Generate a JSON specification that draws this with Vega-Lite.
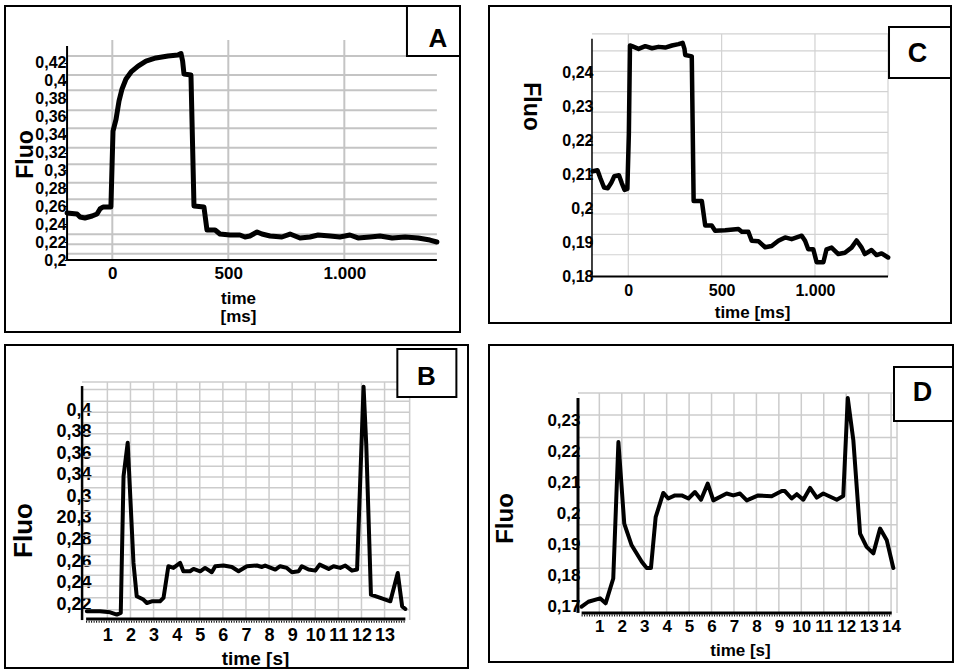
{
"$schema":"https://vega.github.io/schema/vega-lite/v6.json",
"padding":{"left":4,"top":4,"right":0,"bottom":0},
"background":"white",
"config":{
 "view":{"stroke":"black","strokeWidth":2},
 "font":"Liberation Sans",
 "axis":{"labelColor":"black","titleColor":"black","labelFont":"Liberation Sans","titleFont":"Liberation Sans","labelFontWeight":"bold","titleFontWeight":"bold","labelOverlap":false,"labelFlush":false,"labelBound":false,"tickColor":"black","domain":false,"grid":false,"titleAlign":"center","titleBaseline":"middle"}
},
"datasets":{
 "lineA":[{"t":-195,"f":0.2525},{"t":-152,"f":0.2514},{"t":-139,"f":0.248},{"t":-118,"f":0.2469},{"t":-87,"f":0.2491},{"t":-66,"f":0.2514},{"t":-53,"f":0.257},{"t":-40,"f":0.2592},{"t":-6,"f":0.2592},{"t":3,"f":0.344},{"t":16,"f":0.357},{"t":29,"f":0.3776},{"t":42,"f":0.391},{"t":59,"f":0.4021},{"t":81,"f":0.41},{"t":111,"f":0.4166},{"t":145,"f":0.4222},{"t":188,"f":0.4256},{"t":240,"f":0.4278},{"t":283,"f":0.4289},{"t":296,"f":0.4306},{"t":303,"f":0.4222},{"t":309,"f":0.4077},{"t":339,"f":0.4066},{"t":352,"f":0.2603},{"t":395,"f":0.2592},{"t":408,"f":0.2335},{"t":443,"f":0.2335},{"t":464,"f":0.229},{"t":507,"f":0.2279},{"t":550,"f":0.2279},{"t":572,"f":0.2257},{"t":593,"f":0.2268},{"t":624,"f":0.2313},{"t":645,"f":0.229},{"t":680,"f":0.2268},{"t":731,"f":0.2257},{"t":766,"f":0.229},{"t":809,"f":0.2246},{"t":852,"f":0.2257},{"t":887,"f":0.2279},{"t":938,"f":0.2268},{"t":981,"f":0.2257},{"t":1024,"f":0.2279},{"t":1059,"f":0.2246},{"t":1111,"f":0.2257},{"t":1154,"f":0.2268},{"t":1206,"f":0.2246},{"t":1262,"f":0.2257},{"t":1318,"f":0.2246},{"t":1369,"f":0.2223},{"t":1399,"f":0.2201}],
 "lineC":[{"t":-191,"f":0.211},{"t":-165,"f":0.2113},{"t":-150,"f":0.209},{"t":-130,"f":0.2062},{"t":-110,"f":0.206},{"t":-92,"f":0.2075},{"t":-75,"f":0.2095},{"t":-50,"f":0.2098},{"t":-35,"f":0.2075},{"t":-20,"f":0.2055},{"t":-5,"f":0.2058},{"t":3,"f":0.222},{"t":9,"f":0.248},{"t":20,"f":0.2478},{"t":55,"f":0.247},{"t":91,"f":0.2478},{"t":127,"f":0.2472},{"t":162,"f":0.2476},{"t":198,"f":0.2474},{"t":234,"f":0.248},{"t":269,"f":0.2484},{"t":291,"f":0.2488},{"t":301,"f":0.247},{"t":305,"f":0.2452},{"t":340,"f":0.2448},{"t":350,"f":0.2022},{"t":394,"f":0.2022},{"t":412,"f":0.195},{"t":447,"f":0.195},{"t":465,"f":0.1935},{"t":519,"f":0.1936},{"t":590,"f":0.194},{"t":608,"f":0.1932},{"t":643,"f":0.1932},{"t":661,"f":0.1905},{"t":697,"f":0.1904},{"t":733,"f":0.1886},{"t":768,"f":0.189},{"t":804,"f":0.1905},{"t":840,"f":0.1915},{"t":875,"f":0.191},{"t":929,"f":0.192},{"t":947,"f":0.1905},{"t":964,"f":0.188},{"t":991,"f":0.188},{"t":1009,"f":0.1842},{"t":1045,"f":0.1842},{"t":1062,"f":0.188},{"t":1089,"f":0.1885},{"t":1125,"f":0.1866},{"t":1160,"f":0.187},{"t":1196,"f":0.1885},{"t":1223,"f":0.1906},{"t":1250,"f":0.1885},{"t":1267,"f":0.1866},{"t":1303,"f":0.1878},{"t":1330,"f":0.1863},{"t":1357,"f":0.1868},{"t":1392,"f":0.1856}],
 "lineB":[{"t":0.11,"f":0.2135},{"t":0.68,"f":0.2135},{"t":1.12,"f":0.2126},{"t":1.41,"f":0.2105},{"t":1.58,"f":0.212},{"t":1.7,"f":0.3387},{"t":1.88,"f":0.3696},{"t":2.13,"f":0.2583},{"t":2.27,"f":0.2274},{"t":2.56,"f":0.2244},{"t":2.71,"f":0.2212},{"t":2.92,"f":0.2228},{"t":3.28,"f":0.2228},{"t":3.43,"f":0.2259},{"t":3.64,"f":0.2553},{"t":3.86,"f":0.2537},{"t":4.15,"f":0.2583},{"t":4.29,"f":0.2506},{"t":4.58,"f":0.2506},{"t":4.73,"f":0.2528},{"t":5.02,"f":0.2506},{"t":5.23,"f":0.2537},{"t":5.52,"f":0.2497},{"t":5.67,"f":0.2553},{"t":6.03,"f":0.2559},{"t":6.39,"f":0.2546},{"t":6.68,"f":0.2506},{"t":7.04,"f":0.2553},{"t":7.47,"f":0.2559},{"t":7.69,"f":0.2546},{"t":7.83,"f":0.2559},{"t":8.27,"f":0.2522},{"t":8.48,"f":0.2553},{"t":8.77,"f":0.2537},{"t":8.99,"f":0.2497},{"t":9.28,"f":0.2506},{"t":9.42,"f":0.2553},{"t":9.71,"f":0.2522},{"t":10.0,"f":0.2512},{"t":10.19,"f":0.2568},{"t":10.58,"f":0.2528},{"t":10.79,"f":0.2553},{"t":11.08,"f":0.2537},{"t":11.3,"f":0.2559},{"t":11.59,"f":0.2512},{"t":11.81,"f":0.2522},{"t":12.09,"f":0.4216},{"t":12.21,"f":0.3666},{"t":12.41,"f":0.229},{"t":12.82,"f":0.2259},{"t":13.25,"f":0.2228},{"t":13.57,"f":0.249},{"t":13.76,"f":0.2181},{"t":13.9,"f":0.2157}],
 "lineD":[{"t":0.21,"f":0.17},{"t":0.51,"f":0.1716},{"t":1.03,"f":0.1727},{"t":1.28,"f":0.1711},{"t":1.62,"f":0.1791},{"t":1.85,"f":0.2231},{"t":2.11,"f":0.1968},{"t":2.44,"f":0.1898},{"t":2.89,"f":0.1845},{"t":3.11,"f":0.1825},{"t":3.3,"f":0.1825},{"t":3.51,"f":0.1989},{"t":3.85,"f":0.2067},{"t":4.07,"f":0.2049},{"t":4.37,"f":0.2059},{"t":4.67,"f":0.2059},{"t":4.97,"f":0.2049},{"t":5.26,"f":0.207},{"t":5.53,"f":0.2045},{"t":5.83,"f":0.2097},{"t":6.08,"f":0.2043},{"t":6.67,"f":0.2065},{"t":6.97,"f":0.2059},{"t":7.27,"f":0.2065},{"t":7.57,"f":0.2043},{"t":8.08,"f":0.2059},{"t":8.68,"f":0.2056},{"t":9.13,"f":0.2073},{"t":9.27,"f":0.2073},{"t":9.57,"f":0.2049},{"t":9.8,"f":0.2063},{"t":10.09,"f":0.2045},{"t":10.39,"f":0.2083},{"t":10.69,"f":0.2052},{"t":10.98,"f":0.2065},{"t":11.58,"f":0.2045},{"t":11.87,"f":0.2057},{"t":12.07,"f":0.2373},{"t":12.32,"f":0.2236},{"t":12.62,"f":0.1936},{"t":12.91,"f":0.1893},{"t":13.21,"f":0.1872},{"t":13.51,"f":0.1952},{"t":13.81,"f":0.1914},{"t":14.1,"f":0.1825}],
 "gridAH":[{"v":0.207},{"v":0.2175},{"v":0.2287},{"v":0.2499},{"v":0.2678},{"v":0.2863},{"v":0.3069},{"v":0.3254},{"v":0.3471},{"v":0.3672},{"v":0.3895},{"v":0.4066},{"v":0.4278}],
 "gridAV":[{"v":0},{"v":500},{"v":1000}],
 "gridCH":[{"v":0.1864},{"v":0.1924},{"v":0.1984},{"v":0.2044},{"v":0.2104},{"v":0.2164},{"v":0.2224},{"v":0.2284},{"v":0.2344},{"v":0.2404},{"v":0.2464},{"v":0.2514}],
 "gridCV":[{"v":0},{"v":500},{"v":1000},{"v":1391.2}],
 "gridBH":[{"v":0.215},{"v":0.226},{"v":0.237},{"v":0.247},{"v":0.256},{"v":0.266},{"v":0.275},{"v":0.284},{"v":0.295},{"v":0.306},{"v":0.317},{"v":0.328},{"v":0.338},{"v":0.348},{"v":0.357},{"v":0.368},{"v":0.378},{"v":0.388},{"v":0.398},{"v":0.408},{"v":0.419},{"v":0.426}],
 "gridBV":[{"v":1},{"v":2},{"v":3},{"v":4},{"v":5},{"v":6},{"v":7},{"v":8},{"v":9},{"v":10},{"v":11},{"v":12},{"v":13},{"v":14.086}],
 "gridDH":[{"v":0.1759},{"v":0.1824},{"v":0.1894},{"v":0.1964},{"v":0.2035},{"v":0.2109},{"v":0.2179},{"v":0.2246},{"v":0.2318},{"v":0.2389}],
 "gridDV":[{"v":1},{"v":2},{"v":3},{"v":4},{"v":5},{"v":6},{"v":7},{"v":8},{"v":9},{"v":10},{"v":11},{"v":12},{"v":13},{"v":14},{"v":14.265}],
 "one":[{}]
},
"columns":2,
"spacing":{"row":13,"column":21},
"align":"each",
"bounds":"flush",
"concat":[
  {"width":455,"height":326,"resolve":{"axis":{"x":"independent","y":"independent"}},"layer":[
   {"data":{"name":"gridAH"},"mark":{"type":"rule","color":"#c4c4c4","strokeWidth":2},"encoding":{"y":{"field":"v","type":"quantitative","scale":{"domain":[0.1196,0.48364],"nice":false,"zero":false},"axis":null},"x":{"datum":-195,"type":"quantitative","scale":{"domain":[-462.5,1498.6],"nice":false,"zero":false},"axis":null},"x2":{"datum":1399}}},
   {"data":{"name":"gridAV"},"mark":{"type":"rule","color":"#c4c4c4","strokeWidth":2},"encoding":{"x":{"field":"v","type":"quantitative","scale":{"domain":[-462.5,1498.6],"nice":false,"zero":false},"axis":null},"y":{"datum":0.2,"type":"quantitative","scale":{"domain":[0.1196,0.48364],"nice":false,"zero":false},"axis":null},"y2":{"datum":0.4457}}},
   {"data":{"name":"one"},"mark":{"type":"rule","color":"black","strokeWidth":2},"encoding":{"x":{"datum":-195,"type":"quantitative","scale":{"domain":[-462.5,1498.6],"nice":false,"zero":false},"axis":null},"x2":{"datum":1399},"y":{"datum":0.2,"type":"quantitative","scale":{"domain":[0.1196,0.48364],"nice":false,"zero":false},"axis":null}}},
   {"data":{"name":"one"},"mark":{"type":"rule","color":"black","strokeWidth":2},"encoding":{"x":{"datum":-195,"type":"quantitative","scale":{"domain":[-462.5,1498.6],"nice":false,"zero":false},"axis":null},"y":{"datum":0.2,"type":"quantitative","scale":{"domain":[0.1196,0.48364],"nice":false,"zero":false},"axis":null},"y2":{"datum":0.439}}},
   {"data":{"name":"lineA"},"mark":{"type":"line","color":"black","strokeWidth":5,"strokeJoin":"round","strokeCap":"round"},"encoding":{
     "x":{"field":"t","type":"quantitative","scale":{"domain":[-462.5,1498.6],"nice":false,"zero":false},"axis":{"values":[0,500,1000],"offset":-72,"ticks":false,"tickSize":0,"labelPadding":5,"labelFontSize":17,"labelExpr":"replace(format(datum.value, ','), ',', '.')","title":["time","[ms]"],"titleFontSize":17,"titleX":233,"titleY":30,"titleBaseline":"top","titleLineHeight":18}},
     "y":{"field":"f","type":"quantitative","scale":{"domain":[0.1196,0.48364],"nice":false,"zero":false},"axis":{"values":[0.2,0.22,0.24,0.26,0.28,0.3,0.32,0.34,0.36,0.38,0.4,0.42],"offset":-62,"ticks":true,"tickSize":3,"labelPadding":-2,"labelFontSize":16,"labelExpr":"replace(format(datum.value, '.2~f'), '.', ',')","title":"Fluo","titleFontSize":23,"titleAngle":-90,"titleX":-42,"titleY":148}}}},
   {"data":{"name":"one"},"mark":{"type":"rect","fill":"white","stroke":"black","strokeWidth":2},"encoding":{"x":{"datum":1270,"type":"quantitative","scale":{"domain":[-462.5,1498.6],"nice":false,"zero":false},"axis":null},"x2":{"datum":1498.6},"y":{"datum":0.4278,"type":"quantitative","scale":{"domain":[0.1196,0.48364],"nice":false,"zero":false},"axis":null},"y2":{"datum":0.48364}}},
   {"data":{"values":[{"label":"A"}]},"mark":{"type":"text","fontSize":26,"fontWeight":"bold","font":"Liberation Sans","align":"center","baseline":"middle","color":"black"},"encoding":{"text":{"field":"label"},"x":{"datum":1403.8,"type":"quantitative","scale":{"domain":[-462.5,1498.6],"nice":false,"zero":false},"axis":null},"y":{"datum":0.4473,"type":"quantitative","scale":{"domain":[0.1196,0.48364],"nice":false,"zero":false},"axis":null}}}
  ]},
  {"width":462,"height":317,"resolve":{"axis":{"x":"independent","y":"independent"}},"layer":[
   {"data":{"name":"gridCH"},"mark":{"type":"rule","color":"#d2d2d2","strokeWidth":1.2},"encoding":{"y":{"field":"v","type":"quantitative","scale":{"domain":[0.16631,0.25963],"nice":false,"zero":false},"axis":null},"x":{"datum":-194.5,"type":"quantitative","scale":{"domain":[-746.2,1728.7],"nice":false,"zero":false},"axis":null},"x2":{"datum":1391.2}}},
   {"data":{"name":"gridCV"},"mark":{"type":"rule","color":"#d2d2d2","strokeWidth":1.2},"encoding":{"x":{"field":"v","type":"quantitative","scale":{"domain":[-746.2,1728.7],"nice":false,"zero":false},"axis":null},"y":{"datum":0.18,"type":"quantitative","scale":{"domain":[0.16631,0.25963],"nice":false,"zero":false},"axis":null},"y2":{"datum":0.2514}}},
   {"data":{"name":"one"},"mark":{"type":"rule","color":"black","strokeWidth":2},"encoding":{"x":{"datum":-194.5,"type":"quantitative","scale":{"domain":[-746.2,1728.7],"nice":false,"zero":false},"axis":null},"x2":{"datum":1391.2},"y":{"datum":0.18,"type":"quantitative","scale":{"domain":[0.16631,0.25963],"nice":false,"zero":false},"axis":null}}},
   {"data":{"name":"one"},"mark":{"type":"rule","color":"black","strokeWidth":1.5},"encoding":{"x":{"datum":-194.5,"type":"quantitative","scale":{"domain":[-746.2,1728.7],"nice":false,"zero":false},"axis":null},"y":{"datum":0.18,"type":"quantitative","scale":{"domain":[0.16631,0.25963],"nice":false,"zero":false},"axis":null},"y2":{"datum":0.25}}},
   {"data":{"name":"lineC"},"mark":{"type":"line","color":"black","strokeWidth":4.5,"strokeJoin":"round","strokeCap":"round"},"encoding":{
     "x":{"field":"t","type":"quantitative","scale":{"domain":[-746.2,1728.7],"nice":false,"zero":false},"axis":{"values":[0,500,1000],"offset":-46,"ticks":false,"tickSize":0,"labelPadding":5,"labelFontSize":16,"labelExpr":"replace(format(datum.value, ','), ',', '.')","title":"time [ms]","titleFontSize":17,"titleX":263,"titleY":35}},
     "y":{"field":"f","type":"quantitative","scale":{"domain":[0.16631,0.25963],"nice":false,"zero":false},"axis":{"values":[0.18,0.19,0.2,0.21,0.22,0.23,0.24],"offset":-103,"ticks":true,"tickSize":3,"labelPadding":-4,"labelFontSize":16,"labelExpr":"replace(format(datum.value, '.2~f'), '.', ',')","title":"Fluo","titleFontSize":23,"titleAngle":90,"titleX":-62,"titleY":100}}}},
   {"data":{"name":"one"},"mark":{"type":"rect","fill":"white","stroke":"black","strokeWidth":2},"encoding":{"x":{"datum":1396.6,"type":"quantitative","scale":{"domain":[-746.2,1728.7],"nice":false,"zero":false},"axis":null},"x2":{"datum":1728.7},"y":{"datum":0.23843,"type":"quantitative","scale":{"domain":[0.16631,0.25963],"nice":false,"zero":false},"axis":null},"y2":{"datum":0.25345}}},
   {"data":{"values":[{"label":"C"}]},"mark":{"type":"text","fontSize":27,"fontWeight":"bold","font":"Liberation Sans","align":"center","baseline":"middle","color":"black"},"encoding":{"text":{"field":"label"},"x":{"datum":1549.2,"type":"quantitative","scale":{"domain":[-746.2,1728.7],"nice":false,"zero":false},"axis":null},"y":{"datum":0.2455,"type":"quantitative","scale":{"domain":[0.16631,0.25963],"nice":false,"zero":false},"axis":null}}}
  ]},
  {"width":463,"height":323,"resolve":{"axis":{"x":"independent","y":"independent"}},"layer":[
   {"data":{"name":"gridBH"},"mark":{"type":"rule","color":"#cccccc","strokeWidth":1.5},"encoding":{"y":{"field":"v","type":"quantitative","scale":{"domain":[0.16099,0.46022],"nice":false,"zero":false},"axis":null},"x":{"datum":-0.095,"type":"quantitative","scale":{"domain":[-3.4315,16.6118],"nice":false,"zero":false},"axis":null},"x2":{"datum":14.086}}},
   {"data":{"name":"gridBV"},"mark":{"type":"rule","color":"#cccccc","strokeWidth":1.5},"encoding":{"x":{"field":"v","type":"quantitative","scale":{"domain":[-3.4315,16.6118],"nice":false,"zero":false},"axis":null},"y":{"datum":0.20545,"type":"quantitative","scale":{"domain":[0.16099,0.46022],"nice":false,"zero":false},"axis":null},"y2":{"datum":0.42595}}},
   {"data":{"name":"one"},"mark":{"type":"rule","color":"black","strokeWidth":3},"encoding":{"x":{"datum":0.08,"type":"quantitative","scale":{"domain":[-3.4315,16.6118],"nice":false,"zero":false},"axis":null},"x2":{"datum":13.9},"y":{"datum":0.20638,"type":"quantitative","scale":{"domain":[0.16099,0.46022],"nice":false,"zero":false},"axis":null}}},
   {"data":{"name":"one"},"mark":{"type":"rule","color":"black","strokeWidth":2,"strokeDash":[1,1.5]},"encoding":{"x":{"datum":0.08,"type":"quantitative","scale":{"domain":[-3.4315,16.6118],"nice":false,"zero":false},"axis":null},"x2":{"datum":13.9},"y":{"datum":0.20379,"type":"quantitative","scale":{"domain":[0.16099,0.46022],"nice":false,"zero":false},"axis":null}}},
   {"data":{"name":"one"},"mark":{"type":"rule","color":"black","strokeWidth":2.5},"encoding":{"x":{"datum":-0.095,"type":"quantitative","scale":{"domain":[-3.4315,16.6118],"nice":false,"zero":false},"axis":null},"y":{"datum":0.2054,"type":"quantitative","scale":{"domain":[0.16099,0.46022],"nice":false,"zero":false},"axis":null},"y2":{"datum":0.4222}}},
   {"data":{"name":"lineB"},"mark":{"type":"line","color":"black","strokeWidth":4,"strokeJoin":"round","strokeCap":"round"},"encoding":{
     "x":{"field":"t","type":"quantitative","scale":{"domain":[-3.4315,16.6118],"nice":false,"zero":false},"axis":{"values":[1,2,3,4,5,6,7,8,9,10,11,12,13],"offset":-48,"ticks":false,"tickSize":0,"labelPadding":6,"labelFontSize":18,"title":"time [s]","titleFontSize":19,"titleX":250,"titleY":38}},
     "y":{"field":"f","type":"quantitative","scale":{"domain":[0.16099,0.46022],"nice":false,"zero":false},"axis":{"values":[0.22,0.24,0.26,0.28,0.3,0.32,0.34,0.36,0.38,0.4],"offset":-77,"ticks":false,"tickSize":0,"labelPadding":-9,"labelFontSize":18,"labelExpr":"datum.value == 0.32 ? '0,3' : datum.value == 0.3 ? '20,3' : replace(format(datum.value, '.2~f'), '.', ',')","title":"Fluo","titleFontSize":26,"titleAngle":-90,"titleX":-59,"titleY":185}}}},
   {"data":{"name":"one"},"mark":{"type":"rect","fill":"white","stroke":"black","strokeWidth":2},"encoding":{"x":{"datum":13.553,"type":"quantitative","scale":{"domain":[-3.4315,16.6118],"nice":false,"zero":false},"axis":null},"x2":{"datum":16.109},"y":{"datum":0.41205,"type":"quantitative","scale":{"domain":[0.16099,0.46022],"nice":false,"zero":false},"axis":null},"y2":{"datum":0.45652}}},
   {"data":{"values":[{"label":"B"}]},"mark":{"type":"text","fontSize":26,"fontWeight":"bold","font":"Liberation Sans","align":"center","baseline":"middle","color":"black"},"encoding":{"text":{"field":"label"},"x":{"datum":14.809,"type":"quantitative","scale":{"domain":[-3.4315,16.6118],"nice":false,"zero":false},"axis":null},"y":{"datum":0.43058,"type":"quantitative","scale":{"domain":[0.16099,0.46022],"nice":false,"zero":false},"axis":null}}}
  ]},
  {"width":464,"height":317,"resolve":{"axis":{"x":"independent","y":"independent"}},"layer":[
   {"data":{"name":"gridDH"},"mark":{"type":"rule","color":"#cccccc","strokeWidth":1.5},"encoding":{"y":{"field":"v","type":"quantitative","scale":{"domain":[0.15216,0.25442],"nice":false,"zero":false},"axis":null},"x":{"datum":0.049,"type":"quantitative","scale":{"domain":[-3.917,16.76],"nice":false,"zero":false},"axis":null},"x2":{"datum":14.265}}},
   {"data":{"name":"gridDV"},"mark":{"type":"rule","color":"#cccccc","strokeWidth":1.5},"encoding":{"x":{"field":"v","type":"quantitative","scale":{"domain":[-3.917,16.76],"nice":false,"zero":false},"axis":null},"y":{"datum":0.168,"type":"quantitative","scale":{"domain":[0.15216,0.25442],"nice":false,"zero":false},"axis":null},"y2":{"datum":0.23894}}},
   {"data":{"name":"one"},"mark":{"type":"rule","color":"black","strokeWidth":3},"encoding":{"x":{"datum":0.21,"type":"quantitative","scale":{"domain":[-3.917,16.76],"nice":false,"zero":false},"axis":null},"x2":{"datum":14.03},"y":{"datum":0.168,"type":"quantitative","scale":{"domain":[0.15216,0.25442],"nice":false,"zero":false},"axis":null}}},
   {"data":{"name":"one"},"mark":{"type":"rule","color":"black","strokeWidth":2,"strokeDash":[1,1.5]},"encoding":{"x":{"datum":0.21,"type":"quantitative","scale":{"domain":[-3.917,16.76],"nice":false,"zero":false},"axis":null},"x2":{"datum":14.03},"y":{"datum":0.16716,"type":"quantitative","scale":{"domain":[0.15216,0.25442],"nice":false,"zero":false},"axis":null}}},
   {"data":{"name":"one"},"mark":{"type":"rule","color":"black","strokeWidth":3},"encoding":{"x":{"datum":0.049,"type":"quantitative","scale":{"domain":[-3.917,16.76],"nice":false,"zero":false},"axis":null},"y":{"datum":0.168,"type":"quantitative","scale":{"domain":[0.15216,0.25442],"nice":false,"zero":false},"axis":null},"y2":{"datum":0.23732}}},
   {"data":{"name":"lineD"},"mark":{"type":"line","color":"black","strokeWidth":4,"strokeJoin":"round","strokeCap":"round"},"encoding":{
     "x":{"field":"t","type":"quantitative","scale":{"domain":[-3.917,16.76],"nice":false,"zero":false},"axis":{"values":[1,2,3,4,5,6,7,8,9,10,11,12,13,14],"offset":-49,"ticks":false,"tickSize":0,"labelPadding":5,"labelFontSize":17,"title":"time [s]","titleFontSize":17,"titleX":251,"titleY":37}},
     "y":{"field":"f","type":"quantitative","scale":{"domain":[0.15216,0.25442],"nice":false,"zero":false},"axis":{"values":[0.17,0.18,0.19,0.2,0.21,0.22,0.23],"offset":-89,"ticks":false,"tickSize":0,"labelPadding":-2,"labelFontSize":17,"labelExpr":"replace(format(datum.value, '.2~f'), '.', ',')","title":"Fluo","titleFontSize":24,"titleAngle":-90,"titleX":-73,"titleY":173}}}},
   {"data":{"name":"one"},"mark":{"type":"rect","fill":"white","stroke":"black","strokeWidth":2},"encoding":{"x":{"datum":14.131,"type":"quantitative","scale":{"domain":[-3.917,16.76],"nice":false,"zero":false},"axis":null},"x2":{"datum":16.76},"y":{"datum":0.2299,"type":"quantitative","scale":{"domain":[0.15216,0.25442],"nice":false,"zero":false},"axis":null},"y2":{"datum":0.24732}}},
   {"data":{"values":[{"label":"D"}]},"mark":{"type":"text","fontSize":27,"fontWeight":"bold","font":"Liberation Sans","align":"center","baseline":"middle","color":"black"},"encoding":{"text":{"field":"label"},"x":{"datum":15.401,"type":"quantitative","scale":{"domain":[-3.917,16.76],"nice":false,"zero":false},"axis":null},"y":{"datum":0.23894,"type":"quantitative","scale":{"domain":[0.15216,0.25442],"nice":false,"zero":false},"axis":null}}}
  ]}
]
}
